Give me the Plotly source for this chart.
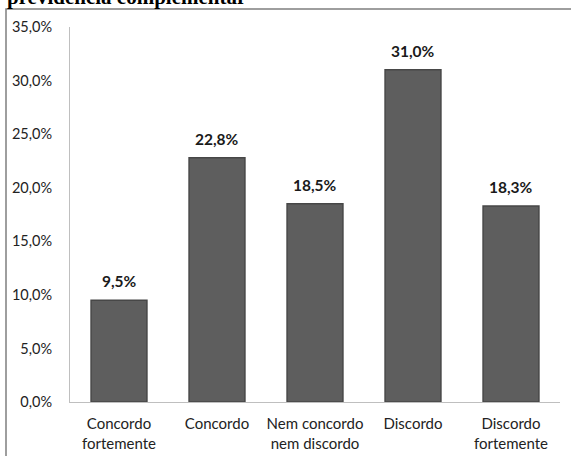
import plotly.graph_objects as go

categories = ["Concordo<br>fortemente", "Concordo", "Nem concordo<br>nem discordo", "Discordo", "Discordo<br>fortemente"]
values = [9.5, 22.8, 18.5, 31.0, 18.3]
labels = ["9,5%", "22,8%", "18,5%", "31,0%", "18,3%"]
tick_vals = [0, 5, 10, 15, 20, 25, 30, 35]
tick_text = ["0,0%", "5,0%", "10,0%", "15,0%", "20,0%", "25,0%", "30,0%", "35,0%"]
title_text = "previdência complementar"

W, H = 572, 456
L, R, T, B = 70, 12, 27, 54
pw, ph = W - L - R, H - T - B

def px_x(x):
    return (x - L) / pw

def px_y(y):
    return (H - B - y) / ph

fig = go.Figure()
fig.add_trace(go.Bar(
    x=categories, y=values,
    marker=dict(color="#5e5e5e", line=dict(color="#474747", width=1.5)),
    width=0.57, hoverinfo="skip",
))

annotations = [dict(x=c, y=v, text=t, xref="x", yref="y", showarrow=False,
                    xanchor="center", yanchor="bottom", yshift=8,
                    font=dict(family="Lato", size=15.5, color="#1a1a1a", weight="bold"))
               for c, v, t in zip(categories, values, labels)]
annotations.append(dict(text=title_text, xref="paper", yref="paper", x=px_x(5), y=px_y(11),
                        xanchor="left", yanchor="bottom", showarrow=False,
                        font=dict(family="Liberation Serif", size=21, color="black", weight="bold")))

x0p, x1p, ytp, ybp = px_x(6), px_x(571), px_y(9), px_y(470)
border_path = f"M {x0p},{ybp} L {x0p},{ytp} L {x1p},{ytp}"

fig.update_layout(
    width=W, height=H, margin=dict(l=L, r=R, t=T, b=B),
    paper_bgcolor="white", plot_bgcolor="white", showlegend=False,
    font=dict(family="Lato", size=14, color="#222222"),
    xaxis=dict(showline=True, linecolor="#bfbfbf", linewidth=1, ticks="",
               tickfont=dict(family="Lato", size=15, color="#222222"), showgrid=False,
               ticklabelstandoff=8, automargin=False),
    yaxis=dict(range=[0, 35], tickvals=tick_vals, ticktext=tick_text, showline=True,
               linecolor="#bfbfbf", linewidth=1, showgrid=False, ticks="",
               zeroline=False, tickfont=dict(family="Lato", size=14.5, color="#222222"),
               ticklabelstandoff=14, automargin=False),
    shapes=[dict(type="path", xref="paper", yref="paper", path=border_path,
                 line=dict(color="#7f7f7f", width=1.5), fillcolor="rgba(0,0,0,0)",
                 layer="below")],
    annotations=annotations,
)

fig.write_html("out.html")
